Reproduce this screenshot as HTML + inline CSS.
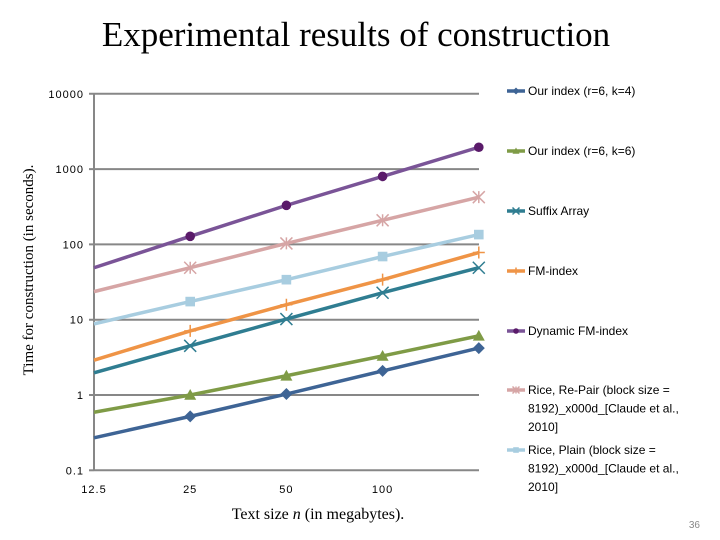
<!DOCTYPE html>
<html><head><meta charset="utf-8"><style>
body{margin:0;background:#fff;}
#wrap{position:relative;width:720px;height:540px;overflow:hidden;font-family:"Liberation Sans",sans-serif;}
</style></head><body>
<div id="wrap">
<svg id="chart" width="720" height="540">
<text x="356" y="46" font-family="Liberation Serif,serif" font-size="35" text-anchor="middle" fill="#000">Experimental results of construction</text>
<text transform="translate(33,270) rotate(-90)" font-family="Liberation Serif,serif" font-size="15" text-anchor="middle">Time for construction (in seconds).</text>
<text x="318" y="519" font-family="Liberation Serif,serif" font-size="16" text-anchor="middle">Text size <tspan font-style="italic">n</tspan> (in megabytes).</text>
<text x="700" y="528" font-size="10" fill="#888" text-anchor="end">36</text>
<g id="grid"></g><g id="series"></g><g id="legend"></g>
</svg>
</div>
<script>
const xCategories=[12.5,25,50,100,200];
const xTickLabels=["12.5","25","50","100"];
const yTicks=[0.1,1,10,100,1000,10000];
const yTickLabels=["0.1","1","10","100","1000","10000"];
const seriesNames=["Our index (r=6, k=4)","Our index (r=6, k=6)","Suffix Array","FM-index","Dynamic FM-index","Rice, Re-Pair (block size = 8192)_x000d_[Claude et al., 2010]","Rice, Plain (block size = 8192)_x000d_[Claude et al., 2010]"];
const ourK4=[0.27,0.52,1.03,2.09,4.2];
const ourK6=[0.59,1.0,1.8,3.3,6.1];
const suffixArray=[1.97,4.5,10.2,22.8,49];
const fmIndex=[2.9,7.1,15.8,34,78];
const dynamicFm=[49,128,330,800,1950];
const riceRePair=[23.6,49,103,209,424];
const ricePlain=[8.8,17.4,34,69,135];

const NS="http://www.w3.org/2000/svg";
function mk(t,a,p){const e=document.createElementNS(NS,t);for(const k in a)e.setAttribute(k,a[k]);p.appendChild(e);return e;}
const x=v=>94+Math.log2(v/12.5)*96.2;
const y=v=>395-Math.log10(v)*75.3;
const grid=document.getElementById('grid');
yTicks.forEach((t,i)=>{
  const l=mk('line',{x1:89,x2:i==0?94:479,y1:y(t),y2:y(t),stroke:'#878787','stroke-width':2},grid);
  
  
  const tx=mk('text',{x:84,y:y(t)+4,'font-size':11,'text-anchor':'end','letter-spacing':'1'},grid);
  tx.textContent=yTickLabels[i];
  
  
});
const ax=mk('line',{x1:94,x2:94,y1:y(10000),y2:y(0.1),stroke:'#878787','stroke-width':2},grid);


const xa=mk('line',{x1:94,x2:479,y1:y(0.1),y2:y(0.1),stroke:'#878787','stroke-width':2},grid);


xTickLabels.forEach((t,i)=>{
  const tx=mk('text',{x:x(xCategories[i]),y:493,'font-size':11,'text-anchor':'middle','letter-spacing':'1'},grid);
  tx.textContent=t;
  
  
});
const data=[ourK4,ourK6,suffixArray,fmIndex,dynamicFm,riceRePair,ricePlain];
const colors=['#3e6495','#7f9b46','#2f7d91','#ef9446','#7a5497','#d6a5a5','#a8cde0'];
const mcol=['#3e6495','#7f9b46','#2f7d91','#ef9446','#5a1a6a','#d6a5a5','#a8cde0'];
const shapes=['diamond','triangle','x','plus','circle','star','square'];
function marker(s,cx,cy,c,p,sz){
  let e;
  if(s=='diamond')e=mk('polygon',{points:`${cx},${cy-sz} ${cx+sz},${cy} ${cx},${cy+sz} ${cx-sz},${cy}`,fill:c},p);
  else if(s=='triangle')e=mk('polygon',{points:`${cx},${cy-sz} ${cx+sz},${cy+sz*0.8} ${cx-sz},${cy+sz*0.8}`,fill:c},p);
  else if(s=='circle')e=mk('circle',{cx,cy,r:sz*0.8,fill:c},p);
  else if(s=='square')e=mk('rect',{x:cx-sz*0.8,y:cy-sz*0.8,width:sz*1.6,height:sz*1.6,fill:c},p);
  else{let d=`M${cx-sz} ${cy-sz}L${cx+sz} ${cy+sz}M${cx-sz} ${cy+sz}L${cx+sz} ${cy-sz}`;
    if(s=='plus')d=`M${cx-sz} ${cy}L${cx+sz} ${cy}M${cx} ${cy-sz}L${cx} ${cy+sz}`;
    if(s=='star')d+=`M${cx} ${cy-sz}L${cx} ${cy+sz}`;
    e=mk('path',{d,stroke:c,'stroke-width':1.5,fill:'none'},p);}
  return e;
}
const sg=document.getElementById('series');
const lg=document.getElementById('legend');
const legY=[91,151,211,271,331,390,450];
data.forEach((vals,si)=>{
  const g=mk('g',{},sg);
  
  
  const pts=vals.map((v,i)=>x(xCategories[i])+','+y(v)).join(' ');
  const pl=mk('polyline',{points:pts,fill:'none',stroke:colors[si],'stroke-width':3.5,'stroke-linejoin':'round'},g);
  
  
  vals.forEach((v,i)=>{ if(i==0)return;
    const m=marker(shapes[si],x(xCategories[i]),y(v),mcol[si],g,6);
    
    
  });
  const le=mk('g',{},lg);
  
  
  const ly=legY[si];
  mk('line',{x1:507,x2:525,y1:ly,y2:ly,stroke:colors[si],'stroke-width':3.5},le);
  marker(shapes[si],516,ly,mcol[si],le,3.5);
  const words=seriesNames[si];
  let lines=[words];
  if(si==5)lines=["Rice, Re-Pair (block size =","8192)_x000d_[Claude et al.,","2010]"];
  if(si==6)lines=["Rice, Plain (block size =","8192)_x000d_[Claude et al.,","2010]"];
  lines.forEach((t,k)=>{
    const tx=mk('text',{x:528,y:ly+4+k*18.5,'font-size':12,fill:'#000'},le);
    tx.textContent=t;
  });
});
</script>
</body></html>
